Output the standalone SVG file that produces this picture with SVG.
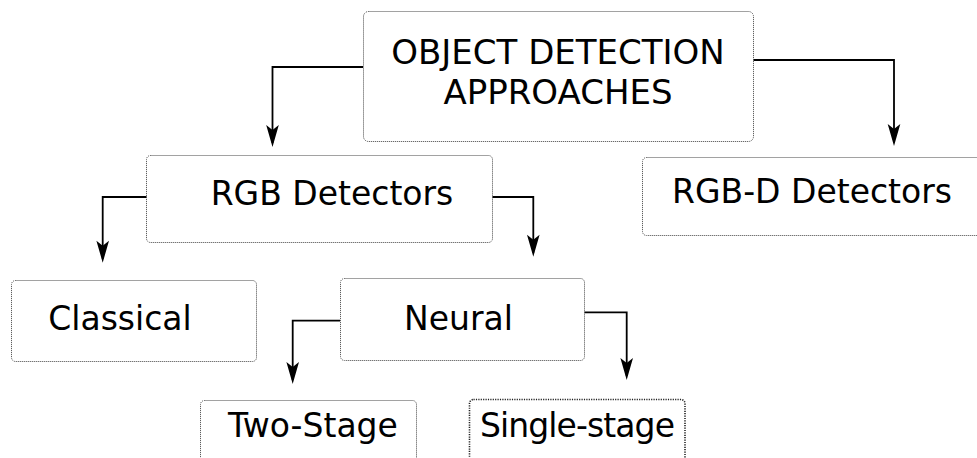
<svg xmlns="http://www.w3.org/2000/svg" width="977" height="458" viewBox="0 0 977 458">
  <defs>
    <marker id="arrow" markerUnits="userSpaceOnUse" markerWidth="24" markerHeight="14" viewBox="-23 -7 24 14" refX="-4" refY="0" orient="auto">
      <path d="M0,0 L-22,-6.3 L-17,0 L-22,6.3 Z" fill="#000"/>
    </marker>
    <style>
      .box { fill: #fff; stroke: #444; stroke-width: 1; stroke-dasharray: 1 1; }
      .box.heavy { stroke: #222; stroke-width: 1.6; stroke-dasharray: 1.2 1.2; }
      .label { font-family: "DejaVu Sans", Verdana, sans-serif; font-size: 33px; fill: #000; text-anchor: middle; }
      .link { fill: none; stroke: #000; stroke-width: 1.8; marker-end: url(#arrow); }
    </style>
  </defs>
  <rect width="977" height="458" fill="#fff"/>

  <g id="connectors">
    <path class="link" d="M363,67 H272.5 V143"/>
    <path class="link" d="M753,60 H894 V142"/>
    <path class="link" d="M147,197 H102.7 V258.7"/>
    <path class="link" d="M492,197 H533.3 V252.7"/>
    <path class="link" d="M340,320.7 H292.7 V380"/>
    <path class="link" d="M584,312.3 H626.7 V376"/>
  </g>

  <g id="object-detection-approaches">
    <rect class="box" x="363.5" y="11.5" width="390" height="130" rx="5"/>
    <text class="label" x="558" y="64" style="font-size:34px">OBJECT DETECTION</text>
    <text class="label" x="558" y="104" style="font-size:34px">APPROACHES</text>
  </g>

  <g id="rgb-detectors">
    <rect class="box" x="146.5" y="155.5" width="346" height="87" rx="4"/>
    <text class="label" x="332" y="205">RGB Detectors</text>
  </g>

  <g id="rgbd-detectors">
    <rect class="box" x="642.5" y="157.5" width="345" height="78" rx="4"/>
    <text class="label" x="812" y="203">RGB-D Detectors</text>
  </g>

  <g id="classical">
    <rect class="box" x="11.5" y="280.5" width="245" height="81" rx="4"/>
    <text class="label" x="120" y="330">Classical</text>
  </g>

  <g id="neural">
    <rect class="box" x="340.5" y="278.5" width="244" height="82" rx="4"/>
    <text class="label" x="458.5" y="330">Neural</text>
  </g>

  <g id="two-stage">
    <rect class="box" x="200.5" y="400.5" width="216" height="70" rx="4"/>
    <text class="label" x="313" y="437">Two-Stage</text>
  </g>

  <g id="single-stage">
    <rect class="box heavy" x="469.5" y="399.5" width="215.5" height="70" rx="4"/>
    <text class="label" x="577" y="437" style="letter-spacing:-0.9px">Single-stage</text>
  </g>
</svg>
